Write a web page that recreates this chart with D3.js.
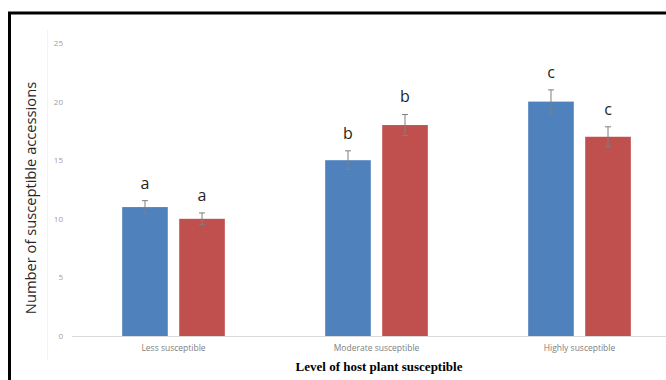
<!DOCTYPE html>
<html>
<head>
<meta charset="utf-8">
<script src="https://cdn.jsdelivr.net/npm/d3@7"></script>
<style>
  body { margin: 0; background: #fff; }
  svg { display: block; }
</style>
</head>
<body>
<div id="chart"></div>
<script>
const categories = ["Less susceptible", "Moderate susceptible", "Highly susceptible"];
const seriesNames = ["A", "B"];
const blueValues = [11, 15, 20];
const redValues = [10, 18, 17];
const blueErrors = [0.55, 0.8, 1.0];
const redErrors = [0.5, 0.9, 0.85];
const blueLetters = ["a", "b", "c"];
const redLetters = ["a", "b", "c"];
const yTicks = [0, 5, 10, 15, 20, 25];

const width = 666, height = 380;
const colors = ["#4F81BD", "#C0504D"];

const svg = d3.select("#chart").append("svg")
  .attr("width", width).attr("height", height);

// frame
svg.append("path")
  .attr("d", "M9.5,400 V13 H700")
  .attr("fill", "none").attr("stroke", "#000").attr("stroke-width", 3);

const x = d3.scaleBand().domain(categories).range([72, 681]);
const xs = d3.scaleBand().domain(seriesNames).range([0, x.bandwidth()]).paddingInner(0.2).paddingOuter(0.88);
const y = d3.scaleLinear().domain([0, 25]).range([336, 43]);

// faint plot-area edge
svg.append("line")
  .attr("x1", 47.5).attr("x2", 47.5).attr("y1", 30).attr("y2", 360)
  .attr("stroke", "#f3f3f3");

// baseline
svg.append("line")
  .attr("x1", 72).attr("x2", 666).attr("y1", y(0) + 0.5).attr("y2", y(0) + 0.5)
  .attr("stroke", "#d9d9d9");

// y tick labels
svg.append("g").selectAll("text").data(yTicks).join("text")
  .attr("x", 63).attr("y", d => y(d) + 3)
  .attr("text-anchor", "end")
  .attr("font-family", "Open Sans, sans-serif").attr("font-size", 8)
  .attr("fill", "#a0a0a0")
  .text(d => d);

const rows = [];
categories.forEach((c, i) => {
  rows.push({ cat: c, s: "A", v: blueValues[i], e: blueErrors[i], l: blueLetters[i], color: colors[0] });
  rows.push({ cat: c, s: "B", v: redValues[i], e: redErrors[i], l: redLetters[i], color: colors[1] });
});

const g = svg.append("g");
g.selectAll("rect").data(rows).join("rect")
  .attr("x", d => x(d.cat) + xs(d.s))
  .attr("width", xs.bandwidth())
  .attr("y", d => y(d.v))
  .attr("height", d => y(0) - y(d.v))
  .attr("fill", d => d.color);

const cx = d => x(d.cat) + xs(d.s) + xs.bandwidth() / 2;

// error bars
const eb = g.selectAll("g.err").data(rows).join("g").attr("class", "err")
  .attr("stroke", "#7f7f7f").attr("stroke-width", 1);
eb.append("line")
  .attr("x1", cx).attr("x2", cx)
  .attr("y1", d => y(d.v + d.e)).attr("y2", d => y(d.v - d.e));
eb.append("line")
  .attr("x1", d => cx(d) - 3).attr("x2", d => cx(d) + 3)
  .attr("y1", d => y(d.v + d.e)).attr("y2", d => y(d.v + d.e));
eb.append("line")
  .attr("x1", d => cx(d) - 3).attr("x2", d => cx(d) + 3)
  .attr("y1", d => y(d.v - d.e)).attr("y2", d => y(d.v - d.e));

// significance letters
g.selectAll("text.sig").data(rows).join("text").attr("class", "sig")
  .attr("x", cx)
  .attr("y", d => y(d.v + d.e) - 12)
  .attr("text-anchor", "middle")
  .attr("font-family", "Open Sans, sans-serif").attr("font-size", 16)
  .attr("fill", "#1f1f1f")
  .text(d => d.l);

// category labels
svg.append("g").selectAll("text").data(categories).join("text")
  .attr("x", d => x(d) + x.bandwidth() / 2)
  .attr("y", 351)
  .attr("text-anchor", "middle")
  .attr("font-family", "Open Sans, sans-serif").attr("font-size", 8.5)
  .attr("fill", "#808080")
  .text(d => d);

// axis titles
svg.append("text")
  .attr("x", 379).attr("y", 371)
  .attr("text-anchor", "middle")
  .attr("font-family", "Liberation Serif, Times New Roman, serif")
  .attr("font-weight", "bold").attr("font-size", 13)
  .attr("fill", "#000")
  .text("Level of host plant susceptible");

svg.append("text")
  .attr("transform", "translate(36,198) rotate(-90)")
  .attr("text-anchor", "middle")
  .attr("font-family", "Open Sans, sans-serif").attr("font-size", 14.7)
  .attr("fill", "#262626")
  .text("Number of susceptible accessions");
</script>
</body>
</html>
